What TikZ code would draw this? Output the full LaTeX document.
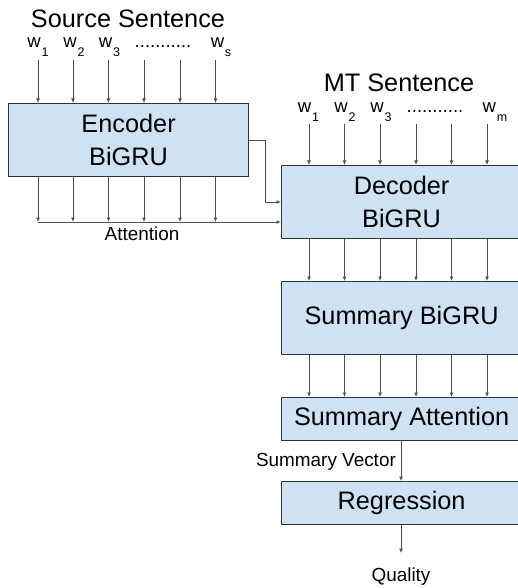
\documentclass[tikz,border=0pt]{standalone}
\usepackage{fontspec}
\setmainfont{Liberation Sans}
\usetikzlibrary{arrows.meta}
\definecolor{boxfill}{HTML}{CFE2F3}
\definecolor{edgec}{HTML}{333333}
\definecolor{linec}{HTML}{505050}
\newcommand{\wlab}[1]{w\kern0.8pt\raisebox{-8.5pt}{\fontsize{12.5}{12.5}\selectfont #1}}
\begin{document}
\begin{tikzpicture}[x=1pt,y=-1pt,
  blk/.style={draw=edgec,fill=boxfill,line width=1.2pt,inner sep=0pt,anchor=north west,align=center,font=\fontsize{25.3}{33}\selectfont},
  arr/.style={draw=linec,line width=0.9pt,-{Latex[length=4.5pt,width=4pt]}},
  title/.style={font=\fontsize{25.3}{26}\selectfont,anchor=base,inner sep=0pt},
  small/.style={font=\fontsize{18.9}{20}\selectfont,inner sep=0pt},
  wl/.style={font=\fontsize{18.5}{18}\selectfont,anchor=base,inner sep=0pt}]
\useasboundingbox (0,0) rectangle (518,588);

% titles
\node[title] (srct) at (128,28) {Source Sentence};
\node[title] (mtt) at (399,92) {MT Sentence};

% boxes
\node[blk,minimum width=240pt,minimum height=73pt] (enc) at (8,103) {Encoder\\BiGRU};
\node[blk,minimum width=240pt,minimum height=73pt] (dec) at (281,165) {Decoder\\BiGRU};
\node[blk,minimum width=240pt,minimum height=73pt] (sum) at (281,281) {Summary BiGRU};
\node[blk,minimum width=240pt,minimum height=43pt] (satt) at (281,397) {Summary Attention};
\node[blk,minimum width=240pt,minimum height=43pt] (reg) at (281,481) {Regression};

% source words
\node[wl] (s1) at (38,48) {\wlab{1}};
\node[wl] (s2) at (74,48) {\wlab{2}};
\node[wl] (s3) at (109.5,48) {\wlab{3}};
\node[wl] (sd) at (163,48) {...........};
\node[wl] (s6) at (221,48) {\wlab{s}};

% MT words
\node[wl] (m1) at (308.5,113) {\wlab{1}};
\node[wl] (m2) at (345,113) {\wlab{2}};
\node[wl] (m3) at (381,113) {\wlab{3}};
\node[wl] (md) at (435,113) {...........};
\node[wl] (m6) at (495,113) {\wlab{m}};

% column coordinates
\foreach \i/\x in {1/38,2/73,3/108.5,4/144,5/180,6/215.5}{
  \coordinate (sa\i) at (\x,60);
  \coordinate (sb\i) at (\x,222);
  \draw[arr] (sa\i) -- (sa\i |- enc.north);
  \draw[arr] (enc.south -| sa\i) -- (sb\i);
}
\foreach \i/\x in {1/309,2/344.5,3/380,4/416,5/451.5,6/487}{
  \coordinate (ma\i) at (\x,124);
  \draw[arr] (ma\i) -- (ma\i |- dec.north);
  \draw[arr] (dec.south -| ma\i) -- (ma\i |- sum.north);
  \draw[arr] (sum.south -| ma\i) -- (ma\i |- satt.north);
}

% attention line
\draw[arr] (sb1) -- (sb1 -| dec.west);
\node[small,anchor=base] (attl) at (142,240) {Attention};

% encoder to decoder
\coordinate (bend) at (265,202);
\draw[arr] (enc.east) -| (bend) -- (bend -| dec.west);

% summary vector
\coordinate (cv) at (401,0);
\draw[arr] (satt.south -| cv) -- (reg.north -| cv);
\node[small,anchor=base east] (svl) at (396,466) {Summary Vector};

% quality
\coordinate (qa) at (401,553);
\draw[arr] (reg.south -| cv) -- (qa);
\node[small,anchor=base] (qual) at (401,581) {Quality};
\end{tikzpicture}
\end{document}
